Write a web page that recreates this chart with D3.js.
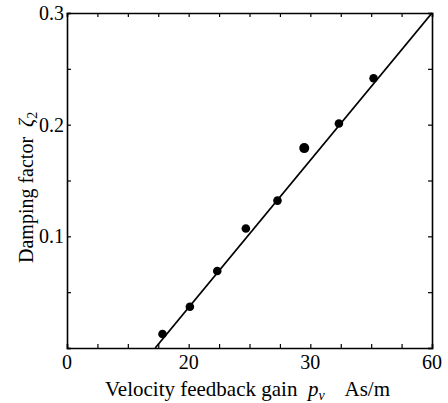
<!DOCTYPE html>
<html>
<head>
<meta charset="utf-8">
<title>Damping factor vs velocity feedback gain</title>
<script src="https://cdn.jsdelivr.net/npm/d3@7"></script>
<style>
  body { margin: 0; background: #fff; }
  text { font-family: "Liberation Serif", "Times New Roman", serif; fill: #000; white-space: pre; }
</style>
</head>
<body>
<script>
// measured points (gain in plot units, damping factor)
var gain = [15.7, 20.2, 24.7, 29.4, 34.6, 39.0, 44.7, 50.4];
var zeta = [0.0125, 0.037, 0.069, 0.107, 0.132, 0.179, 0.201, 0.2415];
// fitted straight line
var fitGain = [14.5, 60];
var fitZeta = [0, 0.3];
// tick labels as printed on the figure
var xTickValues = [0, 20, 40, 60];
var xTickLabels = ["0", "20", "30", "60"];
var yTickValues = [0.1, 0.2, 0.3];
var yTickLabels = ["0.1", "0.2", "0.3"];

function main() {
    var width = 448, height = 403;
    var left = 67, right = 432, top = 13, bottom = 348;

    var svg = d3.select("body").append("svg")
        .attr("width", width)
        .attr("height", height);

    var x = d3.scaleLinear().domain([0, 60]).range([left, right]);
    var y = d3.scaleLinear().domain([0, 0.3]).range([bottom, top]);

    // inward ticks on all four sides, every 5 units / 0.05
    var minorX = d3.range(0, 61, 5);
    var minorY = d3.range(0, 0.301, 0.05);

    svg.append("g").attr("transform", "translate(0," + bottom + ")")
        .call(d3.axisBottom(x).tickValues(minorX).tickSize(-4).tickFormat(""));
    svg.append("g").attr("transform", "translate(0," + top + ")")
        .call(d3.axisTop(x).tickValues(minorX).tickSize(-4).tickFormat(""));
    svg.append("g").attr("transform", "translate(" + left + ",0)")
        .call(d3.axisLeft(y).tickValues(minorY).tickSize(-4).tickFormat(""));
    svg.append("g").attr("transform", "translate(" + right + ",0)")
        .call(d3.axisRight(y).tickValues(minorY).tickSize(-4).tickFormat(""));

    svg.selectAll(".domain").attr("stroke", "#000").attr("stroke-width", 1.6);
    svg.selectAll(".tick line").attr("stroke", "#000").attr("stroke-width", 1.2);

    // tick labels
    svg.append("g").selectAll("text").data(xTickValues).enter().append("text")
        .attr("x", function (d) { return x(d); })
        .attr("y", 369)
        .attr("text-anchor", "middle")
        .style("font-size", "20px")
        .text(function (d, i) { return xTickLabels[i]; });

    svg.append("g").selectAll("text").data(yTickValues).enter().append("text")
        .attr("x", left - 3)
        .attr("y", function (d) { return y(d) + 7; })
        .attr("text-anchor", "end")
        .style("font-size", "20px")
        .text(function (d, i) { return yTickLabels[i]; });

    // axis titles
    var xt = svg.append("text")
        .attr("x", 105).attr("y", 396)
        .style("font-size", "21px");
    xt.append("tspan").text("Velocity feedback gain  ");
    xt.append("tspan").style("font-style", "italic").text("p");
    xt.append("tspan").attr("dy", 4).style("font-size", "14px").style("font-style", "italic").text("v");
    xt.append("tspan").attr("dy", -4).text("    As/m");

    var yt = svg.append("text")
        .attr("transform", "translate(33,263) rotate(-90)")
        .style("font-size", "20px");
    yt.append("tspan").text("Damping factor  ");
    yt.append("tspan").style("font-style", "italic").text("\u03b6");
    yt.append("tspan").attr("dy", 4).style("font-size", "14px").text("2");

    // fitted line
    var line = d3.line()
        .x(function (d, i) { return x(fitGain[i]); })
        .y(function (d) { return y(d); });
    svg.append("path")
        .datum(fitZeta)
        .attr("d", line)
        .attr("fill", "none")
        .attr("stroke", "#000")
        .attr("stroke-width", 1.8);

    // points
    svg.append("g").selectAll("circle").data(zeta).enter().append("circle")
        .attr("cx", function (d, i) { return x(gain[i]); })
        .attr("cy", function (d) { return y(d); })
        .attr("r", function (d, i) { return i === 5 ? 5 : 4.3; })
        .attr("fill", "#000");
}

window.onload = function () {
    main();
};
</script>
</body>
</html>
